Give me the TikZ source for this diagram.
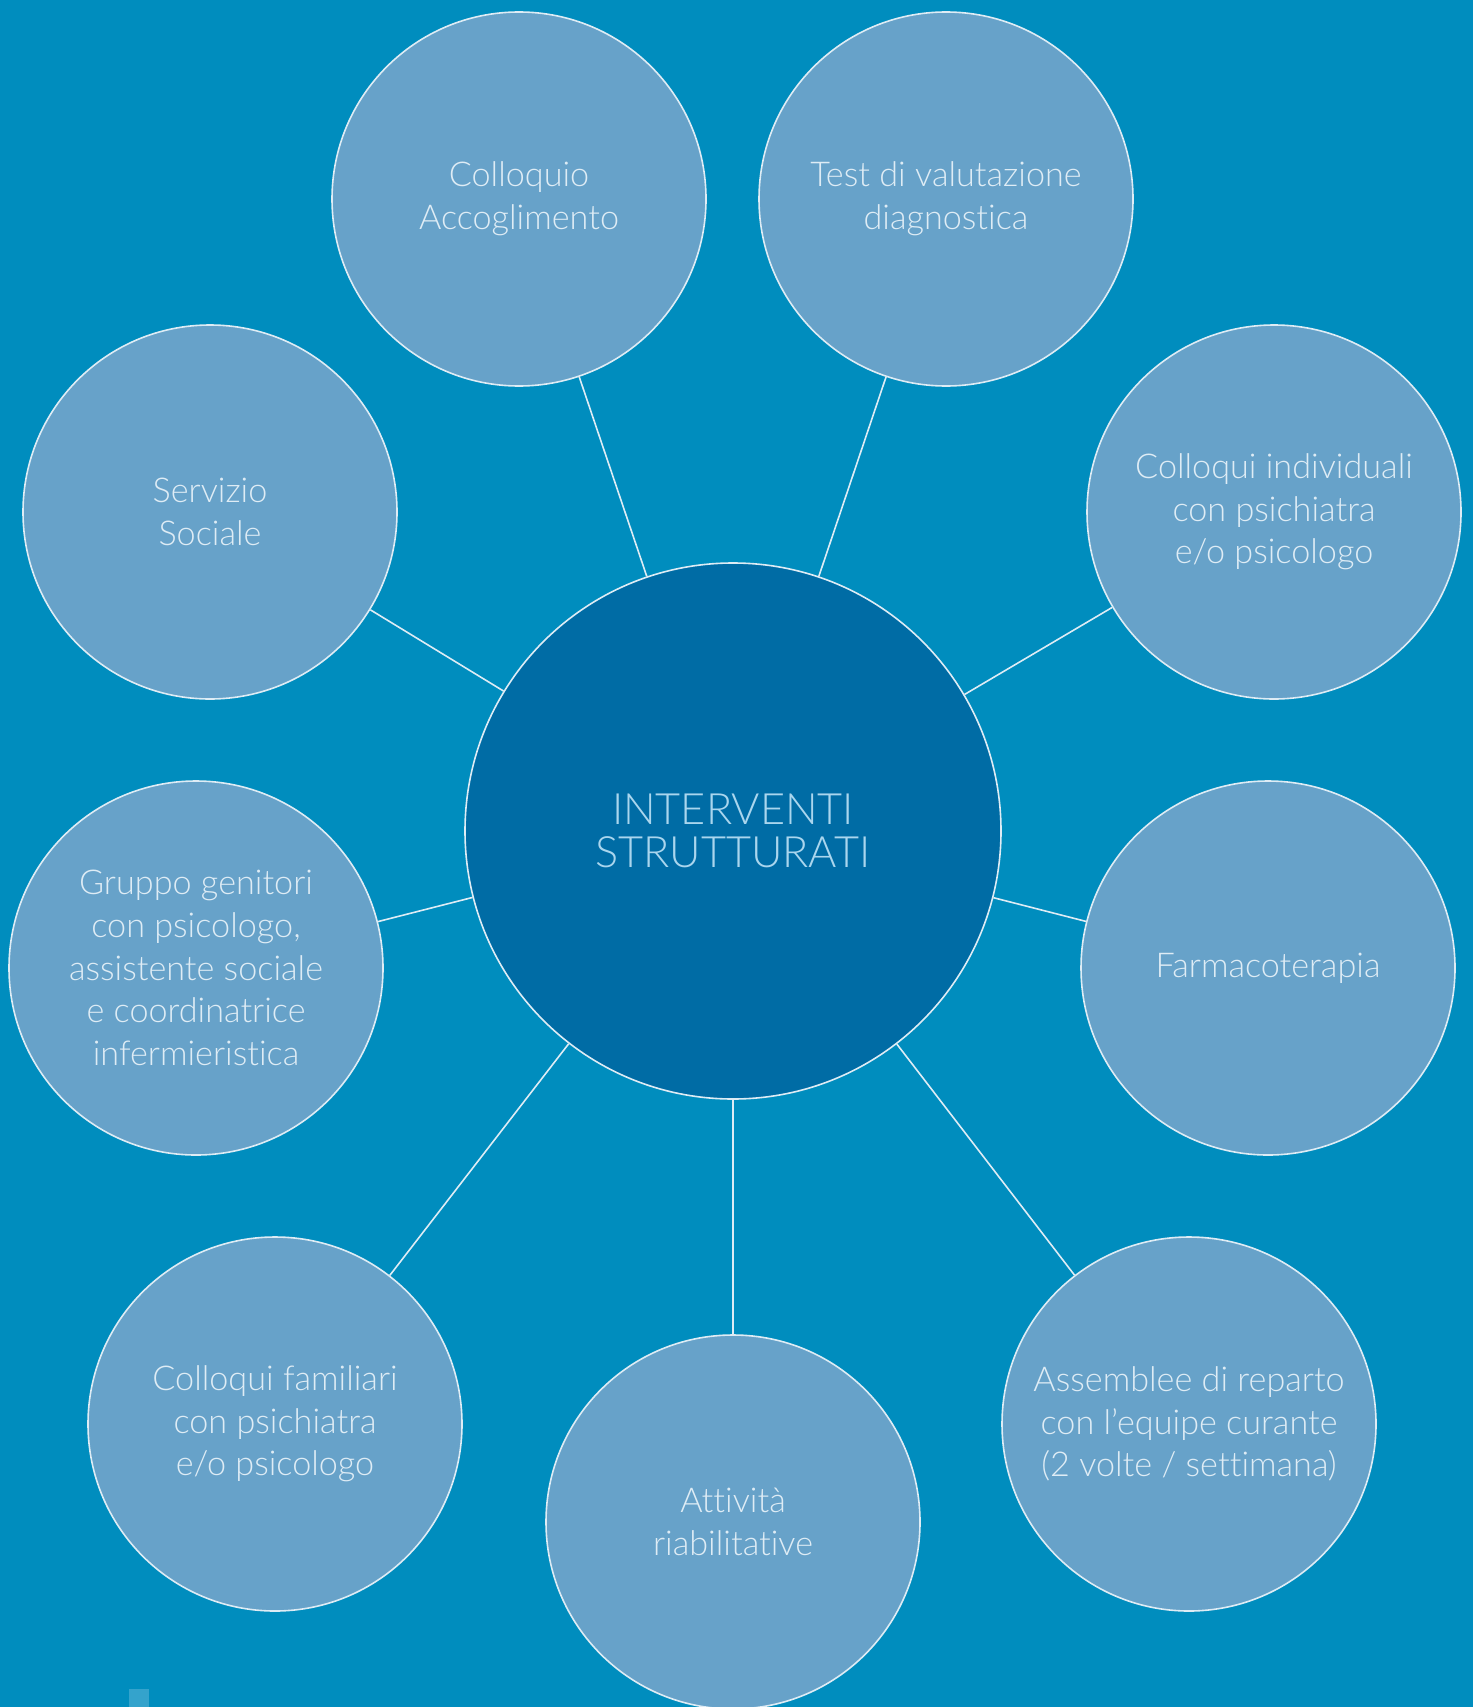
\documentclass[tikz,border=0pt]{standalone}
\usepackage{fontspec}
\setmainfont{Lato}[UprightFont=* Light,Ligatures=NoCommon]
\usetikzlibrary{calc}

\definecolor{sfondo}{RGB}{0,141,190}
\definecolor{cerchio}{RGB}{103,162,201}
\definecolor{centro}{RGB}{0,108,165}
\definecolor{testo}{RGB}{222,236,245}
\definecolor{testocentro}{RGB}{170,214,238}
\definecolor{marchio}{RGB}{52,163,204}

\begin{document}
\begin{tikzpicture}[
    x=0.5pt, y=-0.5pt,
    outer node/.style={circle,fill=cerchio,draw=testo,line width=0.8pt,minimum size=187pt,
        inner sep=0pt,align=center,text=testo,font=\fontsize{17.1}{21.3}\selectfont},
    hub node/.style={circle,fill=centro,draw=testo,line width=0.8pt,minimum size=268pt,
        inner sep=0pt,align=center,text=testocentro,font=\fontsize{21.6}{21.5}\selectfont},
    link edge/.style={draw=testo,line width=0.8pt}
]

% Sfondo
\useasboundingbox (0,0) rectangle (1473,1707);
\clip (0,0) rectangle (1473,1707);
\fill[sfondo] (0,0) rectangle (1473,1707);
\fill[marchio] (129,1689) rectangle (149,1707);

% Nodo centrale
\node[hub node] (hub) at (733,831) {INTERVENTI\\STRUTTURATI};

% Nodi esterni
\node[outer node] (accogl) at (519,199) {Colloquio\\Accoglimento};
\node[outer node] (test) at (946,199) {Test di valutazione\\diagnostica};
\node[outer node] (sociale) at (210,512) {Servizio\\Sociale};
\node[outer node] (individ) at (1274,512) {Colloqui individuali\\con psichiatra\\e/o psicologo};
\node[outer node] (gruppo) at (196,968) {Gruppo genitori\\con psicologo,\\assistente sociale\\e coordinatrice\\infermieristica};
\node[outer node] (farmaco) at (1268,968) {Farmacoterapia};
\node[outer node] (familiari) at (275,1424) {Colloqui familiari\\con psichiatra\\e/o psicologo};
\node[outer node] (riabil) at (733,1522) {Attività\\riabilitative};
\node[outer node] (assemb) at (1189,1424) {Assemblee di reparto\\con l’equipe curante\\(2 volte / settimana)};

% Collegamenti
\foreach \n in {accogl,test,sociale,individ,gruppo,farmaco,familiari,riabil,assemb}
    \draw[link edge] (hub) -- (\n);

\end{tikzpicture}
\end{document}
